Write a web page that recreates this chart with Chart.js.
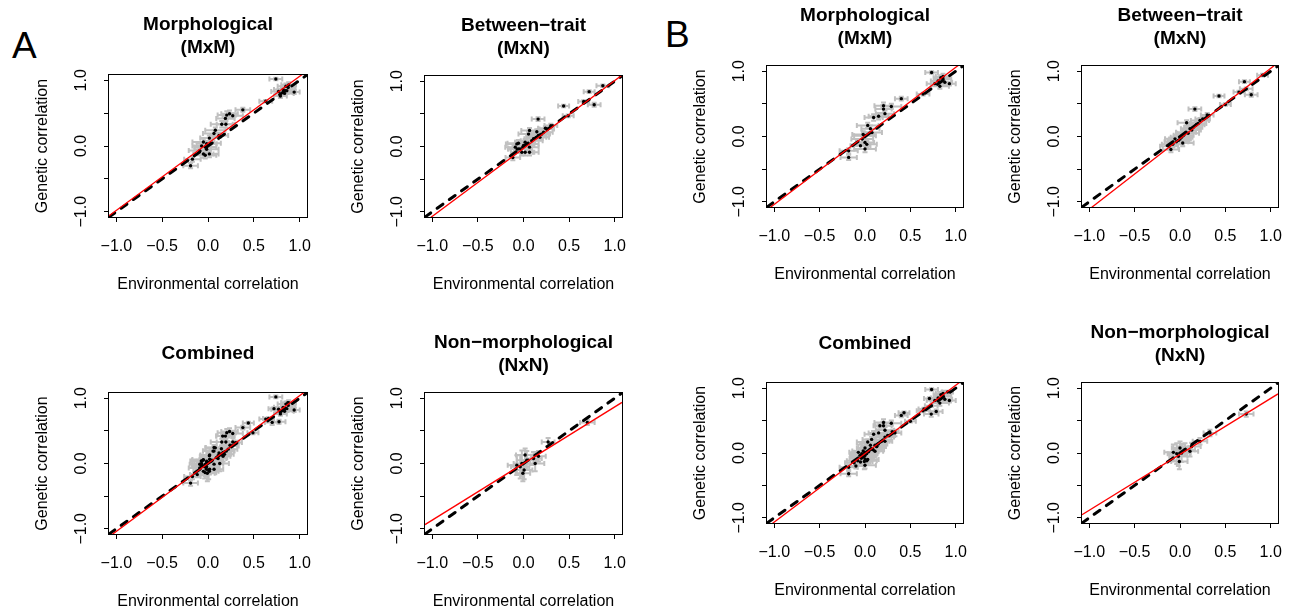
<!DOCTYPE html>
<html lang="en">
<head>
    <meta charset="UTF-8">
    <title>Genetic vs environmental correlation</title>
    <script src="https://cdn.jsdelivr.net/npm/chart.js"></script>
    <style>
        * {
            margin: 0;
            padding: 0;
            box-sizing: border-box;
        }
        body {
            width: 1289px;
            height: 611px;
            overflow: hidden;
            position: relative;
            background-color: #ffffff;
            font-family: "Liberation Sans", Arial, sans-serif;
        }
        canvas {
            position: absolute;
        }
        .letter {
            position: absolute;
            font-size: 37px;
            line-height: 37px;
            color: #000000;
        }
    </style>
</head>
<body>
    <div class="letter" style="left:12px; top:27px;">A</div>
    <div class="letter" style="left:665px; top:16px;">B</div>

    <canvas id="a1"></canvas>
    <canvas id="a2"></canvas>
    <canvas id="a3"></canvas>
    <canvas id="a4"></canvas>
    <canvas id="b1"></canvas>
    <canvas id="b2"></canvas>
    <canvas id="b3"></canvas>
    <canvas id="b4"></canvas>

    <script>
        // axis setup
        const axisMin = -1.08;
        const axisMax = 1.08;
        const xTicks = [-1, -0.5, 0, 0.5, 1];
        const xTickLabels = ['\u22121.0', '\u22120.5', '0.0', '0.5', '1.0'];
        const yTicks = [-1, -0.5, 0, 0.5, 1];
        const yTickLabels = ['\u22121.0', '', '0.0', '', '1.0'];
        const lineX = [-1.08, 1.08];

        // --- A: morphological (MxM)
        const mxmA_env = [0.74, 0.85, 0.875, 0.82, 0.77, 0.86, 0.835, 0.79, 0.94, 0.88,
            0.38, 0.205, 0.235, 0.27, 0.19, 0.15, 0.195, 0.08, 0.065, 0.015,
            -0.05, -0.015, -0.07, -0.03, -0.015, -0.05, -0.03, 0.015, -0.17, -0.19,
            -0.09, 0.12, 0.03, 0.63];
        const mxmA_gen = [1.02, 0.91, 0.89, 0.86, 0.83, 0.84, 0.80, 0.76, 0.82, 0.93,
            0.55, 0.47, 0.49, 0.46, 0.42, 0.33, 0.33, 0.24, 0.19, 0.12,
            0.06, 0.035, 0.0, -0.015, -0.05, -0.12, -0.14, -0.12, -0.20, -0.30,
            -0.07, 0.16, 0.04, 0.68];
        const mxmA_envErr = [0.07, 0.09, 0.08, 0.1, 0.08, 0.09, 0.1, 0.07, 0.06, 0.08,
            0.08, 0.1, 0.09, 0.11, 0.1, 0.12, 0.1, 0.11, 0.12, 0.1,
            0.12, 0.11, 0.1, 0.12, 0.13, 0.11, 0.12, 0.1, 0.09, 0.08,
            0.12, 0.1, 0.11, 0.07];
        const mxmA_genErr = [0.02, 0.04, 0.05, 0.04, 0.03, 0.05, 0.04, 0.03, 0.03, 0.04,
            0.03, 0.06, 0.05, 0.04, 0.06, 0.05, 0.05, 0.04, 0.05, 0.04,
            0.05, 0.04, 0.06, 0.05, 0.04, 0.06, 0.05, 0.05, 0.04, 0.04,
            0.05, 0.04, 0.05, 0.02];

        // --- A: between-trait (MxN)
        const mxnA_env = [0.72, 0.775, 0.44, 0.16, 0.49, 0.87, 0.24, 0.146, 0.066, 0.055,
            -0.055, -0.07, -0.117, 0.066, -0.09, -0.073, -0.036, 0.0, 0.018, 0.036,
            0.066, 0.09, 0.11, 0.14, 0.164, 0.18, 0.2, 0.22, 0.255, -0.018,
            -0.055, 0.018, 0.3, 0.66];
        const mxnA_gen = [0.84, 0.64, 0.62, 0.42, 0.47, 0.93, 0.28, 0.225, 0.245, 0.19,
            0.05, -0.04, -0.17, -0.087, -0.01, 0.04, -0.036, 0.015, 0.066, 0.04,
            -0.01, 0.09, 0.12, 0.14, 0.17, 0.14, 0.19, 0.22, 0.27, -0.087,
            -0.036, -0.087, 0.32, 0.69];
        const mxnA_envErr = [0.06, 0.07, 0.06, 0.07, 0.06, 0.07, 0.08, 0.1, 0.09, 0.11,
            0.12, 0.1, 0.08, 0.1, 0.11, 0.12, 0.13, 0.12, 0.11, 0.13,
            0.1, 0.12, 0.1, 0.11, 0.09, 0.1, 0.09, 0.1, 0.08, 0.12,
            0.11, 0.1, 0.07, 0.06];
        const mxnA_genErr = [0.02, 0.03, 0.02, 0.03, 0.02, 0.02, 0.03, 0.04, 0.04, 0.04,
            0.05, 0.05, 0.04, 0.05, 0.05, 0.05, 0.06, 0.05, 0.05, 0.05,
            0.04, 0.05, 0.04, 0.04, 0.04, 0.04, 0.04, 0.03, 0.03, 0.05,
            0.05, 0.05, 0.03, 0.02];

        // --- A: non-morphological (NxN)
        const nxnA_env = [-0.036, -0.018, -0.007, 0.018, 0.036, 0.11, 0.128, 0.164, -0.073, 0.27, 0.70, 0.007];
        const nxnA_gen = [-0.05, 0.0, -0.15, 0.13, 0.05, 0.077, 0.0, 0.11, -0.025, 0.33, 0.63, -0.10];
        const nxnA_envErr = [0.1, 0.09, 0.08, 0.1, 0.11, 0.09, 0.1, 0.08, 0.1, 0.07, 0.08, 0.09];
        const nxnA_genErr = [0.18, 0.2, 0.12, 0.1, 0.14, 0.1, 0.12, 0.08, 0.15, 0.06, 0.04, 0.14];

        // --- B: morphological (MxM)
        const mxmB_env = [0.734, 0.836, 0.86, 0.806, 0.77, 0.88, 0.825, 0.93, 0.86,
            0.40, 0.204, 0.204, 0.22, 0.29, 0.095, 0.15, 0.03, 0.077, 0.0,
            -0.03, 0.0, -0.05, 0.0, -0.18, -0.18, 0.02, 0.64, 0.06, -0.02];
        const mxmB_gen = [0.98, 0.90, 0.88, 0.85, 0.81, 0.83, 0.77, 0.81, 0.92,
            0.58, 0.47, 0.42, 0.35, 0.46, 0.29, 0.31, 0.17, 0.06, 0.01,
            -0.04, -0.09, -0.14, -0.19, -0.22, -0.32, -0.12, 0.65, 0.12, 0.03];
        const mxmB_envErr = [0.07, 0.08, 0.09, 0.08, 0.09, 0.08, 0.1, 0.07, 0.08,
            0.07, 0.1, 0.09, 0.1, 0.11, 0.1, 0.11, 0.12, 0.11, 0.12,
            0.12, 0.1, 0.11, 0.12, 0.1, 0.09, 0.11, 0.07, 0.1, 0.12];
        const mxmB_genErr = [0.02, 0.04, 0.05, 0.04, 0.03, 0.05, 0.04, 0.03, 0.04,
            0.03, 0.05, 0.06, 0.05, 0.04, 0.05, 0.05, 0.04, 0.05, 0.05,
            0.05, 0.06, 0.05, 0.05, 0.04, 0.04, 0.05, 0.02, 0.05, 0.05];

        // --- B: between-trait (MxN)
        const mxnB_env = [0.71, 0.73, 0.785, 0.43, 0.164, 0.5, 0.91, 0.073, -0.1, -0.055,
            -0.018, 0.018, 0.066, 0.11, 0.146, 0.18, 0.22, -0.08, -0.04, 0.0,
            0.04, 0.09, 0.13, 0.25, -0.12, 0.03, 0.2, 0.65, 0.3];
        const mxnB_gen = [0.84, 0.73, 0.64, 0.62, 0.42, 0.49, 0.94, 0.21, -0.2, -0.036,
            -0.06, -0.01, 0.066, 0.12, 0.14, 0.18, 0.245, -0.12, -0.08, -0.04,
            0.02, 0.05, 0.1, 0.27, -0.15, -0.1, 0.2, 0.68, 0.33];
        const mxnB_envErr = [0.06, 0.07, 0.07, 0.06, 0.07, 0.06, 0.06, 0.1, 0.09, 0.11,
            0.12, 0.12, 0.11, 0.1, 0.1, 0.09, 0.1, 0.12, 0.13, 0.12,
            0.11, 0.12, 0.1, 0.08, 0.1, 0.12, 0.09, 0.06, 0.07];
        const mxnB_genErr = [0.02, 0.02, 0.03, 0.02, 0.03, 0.02, 0.02, 0.04, 0.04, 0.05,
            0.05, 0.05, 0.05, 0.04, 0.04, 0.04, 0.04, 0.05, 0.05, 0.06,
            0.05, 0.05, 0.04, 0.03, 0.05, 0.05, 0.04, 0.02, 0.03];

        // --- B: non-morphological (NxN)
        const nxnB_env = [-0.007, -0.036, 0.0, 0.018, 0.055, 0.11, 0.128, -0.073, 0.22, 0.33, 0.73, -0.018];
        const nxnB_gen = [-0.13, -0.01, 0.077, 0.0, 0.05, 0.026, 0.1, 0.01, 0.18, 0.31, 0.60, -0.05];
        const nxnB_envErr = [0.09, 0.1, 0.09, 0.1, 0.11, 0.09, 0.1, 0.1, 0.08, 0.07, 0.08, 0.1];
        const nxnB_genErr = [0.12, 0.16, 0.1, 0.14, 0.1, 0.08, 0.06, 0.12, 0.05, 0.05, 0.04, 0.15];

        // red fitted lines: y at x = -1.08 and x = 1.08
        const fitMxM_A = [-1.062, 1.142];
        const fitMxN_A = [-1.153, 1.093];
        const fitAll_A = [-1.123, 1.123];
        const fitNxN_A = [-0.936, 0.936];
        const fitMxM_B = [-1.124, 1.144];
        const fitMxN_B = [-1.201, 1.131];
        const fitAll_B = [-1.150, 1.130];
        const fitNxN_B = [-0.952, 0.912];

        const FONT = '"Liberation Sans", Arial, sans-serif';

        // gray error bars with caps, drawn under the datasets
        const errorBars = {
            id: 'errorBars',
            beforeDatasetsDraw(chart) {
                const ds = chart.data.datasets.find(d => d.xErr);
                if (!ds) return;
                const ctx = chart.ctx;
                const a = chart.chartArea;
                const xs = chart.scales.x, ys = chart.scales.y;
                const cap = 2.5;
                ctx.save();
                ctx.beginPath();
                ctx.rect(a.left, a.top, a.right - a.left, a.bottom - a.top);
                ctx.clip();
                ctx.strokeStyle = '#c0c0c0';
                ctx.lineWidth = 2;
                ds.data.forEach((p, i) => {
                    const px = xs.getPixelForValue(p.x), py = ys.getPixelForValue(p.y);
                    const x0 = xs.getPixelForValue(p.x - ds.xErr[i]);
                    const x1 = xs.getPixelForValue(p.x + ds.xErr[i]);
                    const y0 = ys.getPixelForValue(p.y - ds.yErr[i]);
                    const y1 = ys.getPixelForValue(p.y + ds.yErr[i]);
                    ctx.beginPath();
                    ctx.moveTo(x0, py); ctx.lineTo(x1, py);
                    ctx.moveTo(x0, py - cap); ctx.lineTo(x0, py + cap);
                    ctx.moveTo(x1, py - cap); ctx.lineTo(x1, py + cap);
                    ctx.moveTo(px, y0); ctx.lineTo(px, y1);
                    ctx.moveTo(px - cap, y0); ctx.lineTo(px + cap, y0);
                    ctx.moveTo(px - cap, y1); ctx.lineTo(px + cap, y1);
                    ctx.stroke();
                });
                ctx.restore();
            }
        };

        // box around the plot region
        const frame = {
            id: 'frame',
            afterDraw(chart) {
                const a = chart.chartArea;
                const ctx = chart.ctx;
                ctx.save();
                ctx.strokeStyle = '#000000';
                ctx.lineWidth = 1;
                ctx.strokeRect(Math.round(a.left) - 0.5, Math.round(a.top) - 0.5,
                    Math.round(a.right - a.left) + 1, Math.round(a.bottom - a.top) + 1);
                ctx.restore();
            }
        };

        function toPoints(xs, ys) {
            return xs.map((x, i) => ({ x: x, y: ys[i] }));
        }

        function makePanel(id, box, title, env, gen, envErr, genErr, fit) {
            const [bl, bt, bw, bh] = box;
            const cv = document.getElementById(id);
            cv.width = bw + 90 + 25;
            cv.height = bh + 75 + 80;
            cv.style.left = (bl - 90) + 'px';
            cv.style.top = (bt - 75) + 'px';
            const twoLines = Array.isArray(title);

            return new Chart(cv.getContext('2d'), {
                type: 'scatter',
                data: {
                    datasets: [
                        {
                            data: toPoints(lineX, fit),
                            showLine: true,
                            borderColor: '#ff0000',
                            borderWidth: 1.3,
                            pointRadius: 0
                        },
                        {
                            data: toPoints(lineX, lineX),
                            showLine: true,
                            borderColor: '#000000',
                            borderWidth: 3,
                            borderDash: [7, 8],
                            borderCapStyle: 'round',
                            pointRadius: 0
                        },
                        {
                            data: toPoints(env, gen),
                            xErr: envErr,
                            yErr: genErr,
                            pointRadius: 1.7,
                            pointBackgroundColor: '#000000',
                            pointBorderWidth: 0
                        }
                    ]
                },
                options: {
                    responsive: false,
                    animation: false,
                    events: [],
                    layout: {
                        padding: { top: twoLines ? 13.5 : 24.5, left: 0, right: 25, bottom: 0 }
                    },
                    plugins: {
                        legend: { display: false },
                        tooltip: { enabled: false },
                        title: {
                            display: true,
                            text: title,
                            fullSize: false,
                            color: '#000000',
                            font: { family: FONT, size: 19, weight: 'bold', lineHeight: 23 / 19 },
                            padding: { top: 0, bottom: twoLines ? 15.5 : 27.5 }
                        }
                    },
                    scales: {
                        x: {
                            type: 'linear',
                            position: 'bottom',
                            min: axisMin,
                            max: axisMax,
                            afterFit: s => { s.height = 80; },
                            afterBuildTicks: s => { s.ticks = xTicks.map(v => ({ value: v })); },
                            grid: { drawOnChartArea: false, drawTicks: true, tickLength: 5, color: '#000000', lineWidth: 1 },
                            border: { display: false },
                            ticks: {
                                autoSkip: false,
                                minRotation: 0,
                                maxRotation: 0,
                                padding: 15.4,
                                color: '#000000',
                                font: { family: FONT, size: 16 },
                                callback: v => xTickLabels[xTicks.indexOf(v)]
                            },
                            title: {
                                display: true,
                                text: 'Environmental correlation',
                                color: '#000000',
                                font: { family: FONT, size: 16 },
                                padding: { top: 0, bottom: 2.4 }
                            }
                        },
                        y: {
                            type: 'linear',
                            position: 'left',
                            min: axisMin,
                            max: axisMax,
                            afterFit: s => { s.width = 90; },
                            afterBuildTicks: s => { s.ticks = yTicks.map(v => ({ value: v })); },
                            grid: { drawOnChartArea: false, drawTicks: true, tickLength: 5, color: '#000000', lineWidth: 1 },
                            border: { display: false },
                            ticks: {
                                autoSkip: false,
                                minRotation: 90,
                                maxRotation: 90,
                                crossAlign: 'center',
                                padding: 6.2,
                                color: '#000000',
                                font: { family: FONT, size: 16 },
                                callback: v => yTickLabels[yTicks.indexOf(v)]
                            },
                            title: {
                                display: true,
                                text: 'Genetic correlation',
                                color: '#000000',
                                font: { family: FONT, size: 16 },
                                padding: { top: 14.4, bottom: 0 }
                            }
                        }
                    }
                },
                plugins: [errorBars, frame]
            });
        }

        const allA_env = mxmA_env.concat(mxnA_env, nxnA_env);
        const allA_gen = mxmA_gen.concat(mxnA_gen, nxnA_gen);
        const allA_envErr = mxmA_envErr.concat(mxnA_envErr, nxnA_envErr);
        const allA_genErr = mxmA_genErr.concat(mxnA_genErr, nxnA_genErr);
        const allB_env = mxmB_env.concat(mxnB_env, nxnB_env);
        const allB_gen = mxmB_gen.concat(mxnB_gen, nxnB_gen);
        const allB_envErr = mxmB_envErr.concat(mxnB_envErr, nxnB_envErr);
        const allB_genErr = mxmB_genErr.concat(mxnB_genErr, nxnB_genErr);

        const tMxM = ['Morphological', '(MxM)'];
        const tMxN = ['Between\u2212trait', '(MxN)'];
        const tAll = 'Combined';
        const tNxN = ['Non\u2212morphological', '(NxN)'];

        makePanel('a1', [109, 75, 198, 142], tMxM, mxmA_env, mxmA_gen, mxmA_envErr, mxmA_genErr, fitMxM_A);
        makePanel('a2', [425, 76, 197, 141], tMxN, mxnA_env, mxnA_gen, mxnA_envErr, mxnA_genErr, fitMxN_A);
        makePanel('a3', [109, 393, 198, 141], tAll, allA_env, allA_gen, allA_envErr, allA_genErr, fitAll_A);
        makePanel('a4', [425, 393, 197, 141], tNxN, nxnA_env, nxnA_gen, nxnA_envErr, nxnA_genErr, fitNxN_A);
        makePanel('b1', [767, 66, 196, 141], tMxM, mxmB_env, mxmB_gen, mxmB_envErr, mxmB_genErr, fitMxM_B);
        makePanel('b2', [1082, 66, 196, 141], tMxN, mxnB_env, mxnB_gen, mxnB_envErr, mxnB_genErr, fitMxN_B);
        makePanel('b3', [767, 383, 196, 140], tAll, allB_env, allB_gen, allB_envErr, allB_genErr, fitAll_B);
        makePanel('b4', [1082, 383, 196, 140], tNxN, nxnB_env, nxnB_gen, nxnB_envErr, nxnB_genErr, fitNxN_B);
    </script>
</body>
</html>
